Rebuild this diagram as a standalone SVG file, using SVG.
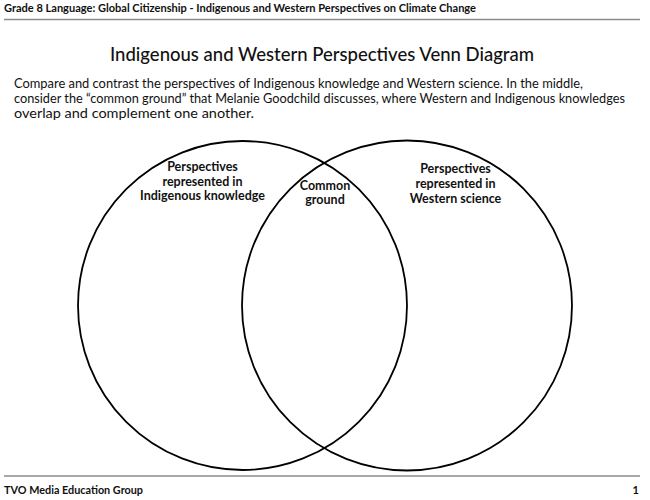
<svg xmlns="http://www.w3.org/2000/svg" width="650" height="500" viewBox="0 0 650 500">
<style>
text{font-family:Lato,"Liberation Sans",sans-serif;fill:#111}
.hdr{font-size:11px;font-weight:700}
.ttl{font-size:18.5px;font-weight:500}
.para{font-size:13px}
.lbl{font-size:12.5px;font-weight:700;text-anchor:middle}
.rule{stroke:#8a8a8a;stroke-width:1.6}
.circ{fill:none;stroke:#000;stroke-width:1.8}
</style>
<rect width="650" height="500" fill="#fff"/>
<g id="header">
<text class="hdr" x="4" y="12" textLength="472" lengthAdjust="spacingAndGlyphs">Grade 8 Language: Global Citizenship - Indigenous and Western Perspectives on Climate Change</text>
<line class="rule" x1="4" y1="19.5" x2="640" y2="19.5"/>
</g>
<g id="title">
<text class="ttl" x="110" y="61" textLength="424" lengthAdjust="spacingAndGlyphs">Indigenous and Western Perspectives Venn Diagram</text>
</g>
<g id="instructions">
<text class="para" x="14" y="88" textLength="569" lengthAdjust="spacingAndGlyphs">Compare and contrast the perspectives of Indigenous knowledge and Western science. In the middle,</text>
<text class="para" x="14" y="103" textLength="611" lengthAdjust="spacingAndGlyphs">consider the “common ground” that Melanie Goodchild discusses, where Western and Indigenous knowledges</text>
<text class="para" x="14" y="118" textLength="240" lengthAdjust="spacingAndGlyphs">overlap and complement one another.</text>
</g>
<g id="indigenous">
<circle class="circ" cx="242.5" cy="305.5" r="164.5"/>
<text class="lbl" x="202.5" y="171">Perspectives</text>
<text class="lbl" x="202.5" y="185.5">represented in</text>
<text class="lbl" x="202.5" y="200">Indigenous knowledge</text>
</g>
<g id="western">
<circle class="circ" cx="407" cy="305.5" r="165"/>
<text class="lbl" x="455.5" y="173">Perspectives</text>
<text class="lbl" x="455.5" y="188">represented in</text>
<text class="lbl" x="455.5" y="203">Western science</text>
</g>
<g id="common">
<text class="lbl" x="325" y="190">Common</text>
<text class="lbl" x="325" y="204">ground</text>
</g>
<g id="connectors"></g>
<g id="footer">
<line class="rule" x1="4" y1="476" x2="640" y2="476"/>
<text class="hdr" x="4" y="493.5" textLength="139" lengthAdjust="spacingAndGlyphs">TVO Media Education Group</text>
<text class="hdr" x="639" y="493.5" text-anchor="end">1</text>
</g>
</svg>
